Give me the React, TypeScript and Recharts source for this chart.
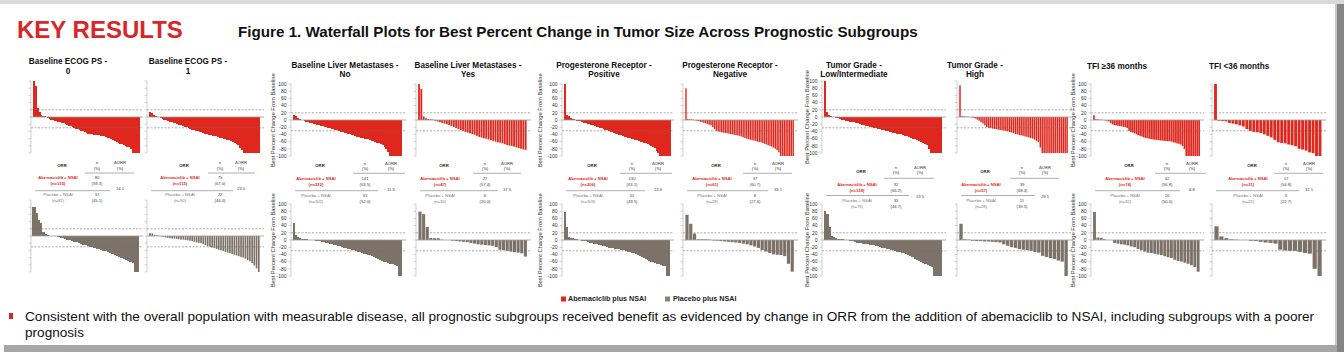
import React from 'react';
import { BarChart, Bar, XAxis, YAxis, ReferenceLine } from 'recharts';

const RED = '#e0271d';
const GRAY = '#7d7268';
const FONT = '"Liberation Sans", Arial, sans-serif';
const TICKS = [-100, -80, -60, -40, -20, 0, 20, 40, 60, 80, 100];

const panelTitles = [
  ['Baseline ECOG PS -', '0'],
  ['Baseline ECOG PS -', '1'],
  ['Baseline Liver Metastases -', 'No'],
  ['Baseline Liver Metastases -', 'Yes'],
  ['Progesterone Receptor -', 'Positive'],
  ['Progesterone Receptor -', 'Negative'],
  ['Tumor Grade -', 'Low/Intermediate'],
  ['Tumor Grade -', 'High'],
  ['TFI ≥36 months'],
  ['TFI <36 months'],
];

// best % change, abemaciclib + NSAI (sorted)
const ecog0Abema = [100, 85, 25, 15, 6, 3, 2, 1, -2, -5, -7, -8, -10, -11, -13, -15, -17, -18, -20, -22, -24, -26, -28, -30, -32, -34, -36, -38, -40, -42, -44, -46, -47, -48, -49, -50, -50, -51, -52, -53, -54, -55, -57, -58, -60, -63, -66, -69, -72, -74, -76, -78, -80, -82, -84, -90, -100, -100, -100, -100];
const ecog1Abema = [13, 12, 6, 3, 1, -1, -3, -5, -7, -9, -11, -13, -15, -16, -18, -19, -21, -23, -25, -27, -29, -31, -33, -35, -37, -38, -40, -41, -43, -44, -46, -47, -49, -50, -52, -53, -54, -56, -57, -59, -60, -62, -63, -65, -67, -70, -72, -75, -79, -85, -92, -100, -100, -100, -100, -100, -100, -100, -100, -100];
const liverNoAbema = [15, 12, 5, 3, 1, -1, -3, -5, -6, -8, -9, -11, -12, -14, -15, -17, -18, -19, -20, -22, -23, -24, -26, -27, -29, -30, -32, -33, -35, -36, -38, -40, -41, -43, -44, -46, -47, -49, -50, -52, -53, -54, -56, -57, -59, -61, -63, -65, -68, -70, -74, -80, -90, -100, -100, -100, -100, -100, -100, -100];
const liverYesAbema = [100, 86, 10, 5, 3, 2, 1, -2, -4, -6, -8, -10, -12, -14, -17, -19, -22, -25, -28, -30, -33, -35, -37, -39, -41, -44, -47, -49, -51, -52, -54, -56, -58, -60, -62, -63, -65, -67, -70, -71, -72, -74, -76, -78, -80, -82, -83];
const pgrPosAbema = [100, 15, 10, 6, 4, 2, -1, -2, -3, -4, -5, -7, -9, -11, -12, -14, -15, -17, -19, -20, -22, -23, -25, -27, -28, -30, -32, -34, -36, -38, -40, -41, -43, -44, -46, -47, -49, -50, -52, -53, -55, -56, -58, -60, -61, -63, -65, -67, -69, -71, -74, -78, -85, -93, -100, -100, -100, -100, -100, -100];
const pgrNegAbema = [88, 3, 2, 2, 1, -1, -2, -3, -5, -6, -8, -9, -11, -13, -15, -20, -25, -30, -32, -33, -34, -35, -36, -37, -38, -39, -40, -41, -42, -43, -44, -46, -48, -50, -52, -53, -55, -56, -57, -58, -60, -61, -62, -64, -66, -68, -70, -72, -74, -77, -80, -84, -90, -100, -100, -100, -100, -100, -100, -100, -100];
const gradeLowAbema = [100, 15, 5, 3, 1, -1, -3, -4, -6, -7, -8, -10, -11, -13, -14, -15, -17, -18, -20, -21, -22, -24, -25, -27, -28, -30, -31, -33, -34, -36, -37, -39, -40, -41, -43, -44, -45, -46, -47, -48, -50, -52, -54, -56, -58, -60, -62, -63, -66, -69, -72, -75, -78, -90, -100, -100, -100, -100, -100, -100];
const gradeHighAbema = [88, 3, 2, 1, 1, 0, -1, -2, -4, -7, -10, -14, -18, -23, -28, -30, -31, -32, -33, -34, -35, -36, -37, -38, -39, -40, -42, -43, -45, -47, -48, -50, -51, -52, -54, -55, -57, -58, -60, -63, -66, -70, -85, -100, -100, -100, -100, -100, -100, -100, -100, -100, -100, -100, -100, -100, -100];
const tfiLongAbema = [13, 2, 2, 1, 1, 0, -1, -2, -4, -8, -12, -14, -15, -16, -17, -18, -19, -20, -22, -30, -33, -35, -37, -40, -42, -44, -46, -48, -50, -51, -52, -53, -54, -55, -55, -56, -57, -57, -58, -58, -59, -59, -60, -62, -63, -65, -66, -68, -72, -81, -100, -100, -100, -100, -100, -100, -100, -100];
const tfiShortAbema = [100, -2, -3, -4, -8, -10, -12, -15, -18, -25, -30, -33, -34, -36, -40, -44, -48, -55, -62, -64, -65, -68, -70, -73, -80, -82, -85, -90, -92, -100, -100];

// best % change, placebo + NSAI
const ecog0Placebo = [80, 64, 45, 35, 12, 5, 3, 1, 0, 0, -1, -3, -5, -6, -8, -10, -12, -14, -16, -18, -20, -22, -24, -26, -28, -30, -31, -33, -35, -37, -39, -41, -43, -44, -46, -50, -53, -55, -58, -62, -65, -67, -69, -71, -74, -100, -100];
const ecog1Placebo = [8, 7, 3, 2, 1, -1, -2, -4, -5, -6, -7, -7, -8, -9, -10, -10, -11, -12, -13, -14, -16, -18, -19, -20, -22, -25, -28, -30, -32, -33, -36, -38, -40, -42, -44, -46, -48, -50, -52, -54, -56, -58, -60, -63, -67, -70, -75, -82, -90, -100];
const liverNoPlacebo = [46, 15, 8, 5, 4, 3, 2, 1, 1, 0, -1, -2, -3, -4, -5, -6, -8, -9, -10, -11, -13, -14, -16, -18, -19, -21, -22, -24, -25, -27, -29, -30, -32, -34, -36, -38, -40, -41, -43, -45, -47, -50, -53, -56, -58, -60, -62, -64, -66, -68, -70, -72, -100, -100];
const liverYesPlacebo = [79, 72, 36, 6, 5, 5, 1, 0, 0, -2, -3, -4, -5, -6, -8, -10, -12, -13, -14, -15, -16, -20, -27, -28, -30, -32, -34, -35, -37, -46];
const pgrPosPlacebo = [78, 35, 8, 6, 5, 3, 2, 0, -1, -2, -3, -4, -5, -7, -8, -10, -11, -12, -14, -15, -16, -18, -19, -21, -22, -23, -24, -25, -26, -27, -28, -29, -31, -32, -34, -36, -37, -39, -41, -44, -47, -50, -53, -55, -58, -60, -62, -64, -66, -68, -69, -71, -73, -100, -100];
const pgrNegPlacebo = [70, 45, 18, 2, 2, 2, 1, -1, -2, -3, -4, -5, -6, -7, -8, -10, -12, -15, -18, -22, -28, -32, -36, -40, -41, -42, -45, -66, -88];
const gradeLowPlacebo = [80, 71, 35, 10, 8, 5, 3, 2, 2, 1, 0, -1, -2, -3, -5, -7, -8, -9, -10, -11, -12, -13, -14, -15, -17, -18, -20, -21, -23, -24, -26, -27, -29, -30, -32, -33, -35, -37, -40, -42, -45, -48, -52, -55, -58, -61, -64, -67, -69, -72, -75, -100, -100, -100, -100];
const gradeHighPlacebo = [45, 2, 1, -2, -3, -3, -4, -4, -5, -6, -7, -12, -16, -20, -22, -25, -27, -28, -30, -33, -35, -44, -47, -50, -53, -57, -60, -100];
const tfiLongPlacebo = [78, 7, 6, 2, 0, 0, -8, -10, -12, -13, -15, -18, -20, -25, -28, -32, -35, -36, -38, -40, -42, -45, -48, -50, -55, -58, -60, -63, -66, -70, -75, -88];
const tfiShortPlacebo = [38, 10, 5, 2, 1, 0, 0, -2, -3, -5, -7, -8, -10, -27, -29, -30, -30, -33, -36, -38, -80, -100];

// ORR table
const abemaResp = ['80', '75', '141', '27', '130', '37', '92', '39', '42', '17'];
const abemaPct = ['(59.3)', '(67.0)', '(63.5)', '(57.4)', '(63.1)', '(60.7)', '(66.2)', '(68.4)', '(56.8)', '(54.8)'];
const abemaTotal = ['(n=135)', '(n=112)', '(n=222)', '(n=47)', '(n=206)', '(n=61)', '(n=139)', '(n=57)', '(n=74)', '(n=31)'];
const placeboResp = ['37', '22', '53', '6', '51', '8', '35', '11', '16', '5'];
const placeboPct = ['(45.1)', '(44.0)', '(52.0)', '(20.0)', '(49.5)', '(27.6)', '(46.7)', '(39.3)', '(50.0)', '(22.7)'];
const placeboTotal = ['(n=82)', '(n=50)', '(n=102)', '(n=30)', '(n=103)', '(n=29)', '(n=75)', '(n=28)', '(n=32)', '(n=22)'];
const deltaOrr = ['14.1', '23.0', '11.5', '37.5', '13.6', '33.1', '19.5', '29.1', '6.8', '32.1'];

const abemaSeries = [ecog0Abema, ecog1Abema, liverNoAbema, liverYesAbema, pgrPosAbema, pgrNegAbema, gradeLowAbema, gradeHighAbema, tfiLongAbema, tfiShortAbema];
const placeboSeries = [ecog0Placebo, ecog1Placebo, liverNoPlacebo, liverYesPlacebo, pgrPosPlacebo, pgrNegPlacebo, gradeLowPlacebo, gradeHighPlacebo, tfiLongPlacebo, tfiShortPlacebo];

// vertical positions for each row of panels
const ROWS: Record<string, any> = {
  A: { t1: 62.3, t2: 71.7, top0: 117, bot0: 236, hN: 163, hP: 168.5, hOrr: 165.5, hLine: 173, a1: 177.5, a2: 184, d: 188.5, sep: 190.7, p1: 195, p2: 201 },
  B: { t1: 66, t2: 75.3, top0: 120.3, bot0: 240.3, hN: 163.5, hP: 169, hOrr: 166, hLine: 173.3, a1: 179.3, a2: 185, d: 190, sep: 190.7, p1: 195.5, p2: 201.5 },
  C: { t1: 66, t2: 75.3, top0: 117, bot0: 240, hN: 168.3, hP: 172.5, hOrr: 171.7, hLine: 178.3, a1: 185, a2: 190.7, d: 196.7, sep: 195.5, p1: 200.7, p2: 206.7 },
};

// fill = share of each category slot covered by its bar (1 = solid area)
const layout = [
  { x0: 31, w: 112, g: 'A', ticks: false, yl: 0, tx: 68, anchor: 'middle', lab: 58, n: 97, d: 120, fillT: 1, fillB: 1 },
  { x0: 147, w: 117, g: 'A', ticks: false, yl: 0, tx: 188, anchor: 'middle', lab: 180, n: 220, d: 241, fillT: 1, fillB: 0.75 },
  { x0: 291, w: 115, g: 'B', ticks: true, yl: 273, tx: 345, anchor: 'middle', lab: 316, n: 365, d: 391, fillT: 1, fillB: 1 },
  { x0: 416, w: 115, g: 'B', ticks: false, yl: 0, tx: 468, anchor: 'middle', lab: 440, n: 485, d: 507, fillT: 0.78, fillB: 0.85 },
  { x0: 562, w: 112, g: 'B', ticks: true, yl: 540, tx: 604, anchor: 'middle', lab: 588, n: 632, d: 658, fillT: 1, fillB: 1 },
  { x0: 683, w: 115, g: 'B', ticks: false, yl: 0, tx: 730, anchor: 'middle', lab: 712, n: 755, d: 778, fillT: 0.78, fillB: 0.85 },
  { x0: 822, w: 124, g: 'C', ticks: true, yl: 807, tx: 854, anchor: 'middle', lab: 857, n: 896, d: 920, fillT: 1, fillB: 1 },
  { x0: 957, w: 115, g: 'C', ticks: false, yl: 0, tx: 975, anchor: 'middle', lab: 981, n: 1022, d: 1045, fillT: 0.78, fillB: 0.85 },
  { x0: 1091, w: 113, g: 'B', ticks: true, yl: 1073, tx: 1087, anchor: 'start', lab: 1125, n: 1167, d: 1192, fillT: 0.88, fillB: 0.85 },
  { x0: 1212, w: 114, g: 'B', ticks: false, yl: 0, tx: 1209, anchor: 'start', lab: 1248, n: 1286, d: 1309, fillT: 0.82, fillB: 0.85 },
];

const YW = 22;
const PH = 72;
const MT = 4;
const MB = 4;
const PAD_L = 2;
const PAD_R = 4;

const Waterfall = ({ values, color, x0, w, zero, ticks, fill }: any) => {
  const data = values.map((v: number, i: number) => ({ i, v }));
  const band = (w - PAD_L - PAD_R) / values.length;
  const solid = fill >= 1;
  const bw = solid ? band + 0.8 : band * fill;
  // centre every bar on its category slot; solid charts overlap slightly with crisp edges
  const shape = (p: any) => {
    const cx = p.x + p.width / 2;
    const y = Math.min(p.y, p.y + p.height);
    const h = Math.abs(p.height);
    return (
      <rect x={cx - bw / 2} y={y} width={bw} height={h} fill={color} shapeRendering={solid ? 'crispEdges' : 'auto'} />
    );
  };
  return (
    <div style={{ position: 'absolute', left: x0 - YW, top: zero - PH / 2 - MT }}>
      <BarChart
        width={YW + w}
        height={PH + MT + MB}
        data={data}
        margin={{ top: MT, right: 0, bottom: MB, left: 0 }}
        barCategoryGap={0}
        barGap={0}
      >
        <XAxis dataKey="i" hide padding={{ left: PAD_L, right: PAD_R }} />
        <YAxis
          width={YW}
          domain={[-100, 100]}
          ticks={TICKS}
          interval={0}
          allowDataOverflow
          tickSize={2.5}
          tickLine={{ stroke: '#b5b5b5', strokeWidth: 0.6 }}
          axisLine={{ stroke: '#c4c4c4', strokeWidth: 0.8 }}
          tick={ticks ? { fontSize: 5, fill: '#333', fontFamily: FONT } : () => <g />}
        />
        <Bar dataKey="v" fill={color} shape={shape} isAnimationActive={false} />
        <ReferenceLine y={0} stroke="#9a9a9a" strokeWidth={0.8} />
        <ReferenceLine y={20} stroke="#6f6f6f" strokeDasharray="2 1.5" strokeWidth={0.6} />
        <ReferenceLine y={-30} stroke="#6f6f6f" strokeDasharray="2 1.5" strokeWidth={0.6} />
      </BarChart>
    </div>
  );
};

const T = ({ x, y, s = 4.2, c = '#444', b = false, a = 'middle', children }: any) => (
  <text x={x} y={y} fontSize={s} fill={c} fontWeight={b ? 'bold' : 'normal'} textAnchor={a} dominantBaseline="middle" fontFamily={FONT}>
    {children}
  </text>
);

export default function App() {
  return (
    <div style={{ position: 'fixed', left: 0, top: 0, width: 1344, height: 352, background: '#fff', overflow: 'hidden', fontFamily: FONT }}>
      <svg width={1344} height={352} style={{ position: 'absolute', left: 0, top: 0 }}>
        <rect x={0} y={0} width={1344} height={4} fill="#d9d9d9" />
        <rect x={1335} y={4} width={2} height={348} fill="#c8c8c8" />
        <rect x={1337} y={4} width={7} height={348} fill="#858585" />
        <rect x={4} y={345} width={1333} height={7} fill="#a6a6a6" />

        <text x={17} y={37.5} fontSize={24} fontWeight="bold" fill="#d9262b" fontFamily={FONT}>KEY RESULTS</text>
        <text x={238} y={36.5} fontSize={15.2} fontWeight="bold" fill="#111" fontFamily={FONT}>
          Figure 1. Waterfall Plots for Best Percent Change in Tumor Size Across Prognostic Subgroups
        </text>

        {layout.map((p, k) => {
          const r = ROWS[p.g];
          const title = panelTitles[k];
          return (
            <g key={k}>
              <T x={p.tx} y={title.length === 1 ? r.t1 + 0.7 : r.t1} s={8.2} c="#111" b a={p.anchor}>{title[0]}</T>
              {title[1] && <T x={p.tx} y={r.t2} s={8.2} c="#111" b>{title[1]}</T>}
              {p.yl > 0 && (
                <>
                  <g transform={`translate(${p.yl},${r.top0}) rotate(-90)`}>
                    <T x={0} y={0} s={5.8} c="#333">Best Percent Change From Baseline</T>
                  </g>
                  <g transform={`translate(${p.yl},${r.bot0}) rotate(-90)`}>
                    <T x={0} y={0} s={5.8} c="#333">Best Percent Change From Baseline</T>
                  </g>
                </>
              )}
              <T x={p.lab + 4} y={r.hOrr} c="#222" b>ORR</T>
              <T x={p.n} y={r.hN} c="#333">n</T>
              <T x={p.n} y={r.hP} c="#333">(%)</T>
              <T x={p.d} y={r.hN} c="#333">ΔORR</T>
              <T x={p.d} y={r.hP} c="#333">(%)</T>
              <line x1={p.n - 12} x2={p.d + 14} y1={r.hLine} y2={r.hLine} stroke="#9a9a9a" strokeWidth={0.8} />
              <T x={p.lab} y={r.a1} c={RED} b>Abemaciclib + NSAI</T>
              <T x={p.lab} y={r.a2} c={RED} b>{abemaTotal[k]}</T>
              <T x={p.n} y={r.a1}>{abemaResp[k]}</T>
              <T x={p.n} y={r.a2}>{abemaPct[k]}</T>
              <T x={p.d} y={r.d}>{deltaOrr[k]}</T>
              <line x1={p.x0 + 4} x2={p.n + 13} y1={r.sep} y2={r.sep} stroke="#9a9a9a" strokeWidth={0.8} />
              <T x={p.lab} y={r.p1} c="#777">Placebo + NSAI</T>
              <T x={p.lab} y={r.p2} c="#777">{placeboTotal[k]}</T>
              <T x={p.n} y={r.p1}>{placeboResp[k]}</T>
              <T x={p.n} y={r.p2}>{placeboPct[k]}</T>
            </g>
          );
        })}

        <rect x={561} y={296.5} width={5} height={5} fill={RED} />
        <T x={568} y={299.2} s={7.2} c="#222" b a="start">Abemaciclib plus NSAI</T>
        <rect x={665} y={296.5} width={5} height={5} fill="#8a8178" />
        <T x={673} y={299.2} s={7.2} c="#222" b a="start">Placebo plus NSAI</T>

        <rect x={9} y={313} width={4} height={6} fill="#d9262b" />
        <text x={25} y={320.5} fontSize={13.6} fill="#111" fontFamily={FONT}>
          Consistent with the overall population with measurable disease, all prognostic subgroups received benefit as evidenced by change in ORR from the addition of abemaciclib to NSAI, including subgroups with a poorer
        </text>
        <text x={25} y={336.5} fontSize={13.6} fill="#111" fontFamily={FONT}>prognosis</text>
      </svg>

      {layout.map((p, k) => (
        <React.Fragment key={k}>
          <Waterfall values={abemaSeries[k]} color={RED} x0={p.x0} w={p.w} zero={ROWS[p.g].top0} ticks={p.ticks} fill={p.fillT} />
          <Waterfall values={placeboSeries[k]} color={GRAY} x0={p.x0} w={p.w} zero={ROWS[p.g].bot0} ticks={p.ticks} fill={p.fillB} />
        </React.Fragment>
      ))}
    </div>
  );
}
